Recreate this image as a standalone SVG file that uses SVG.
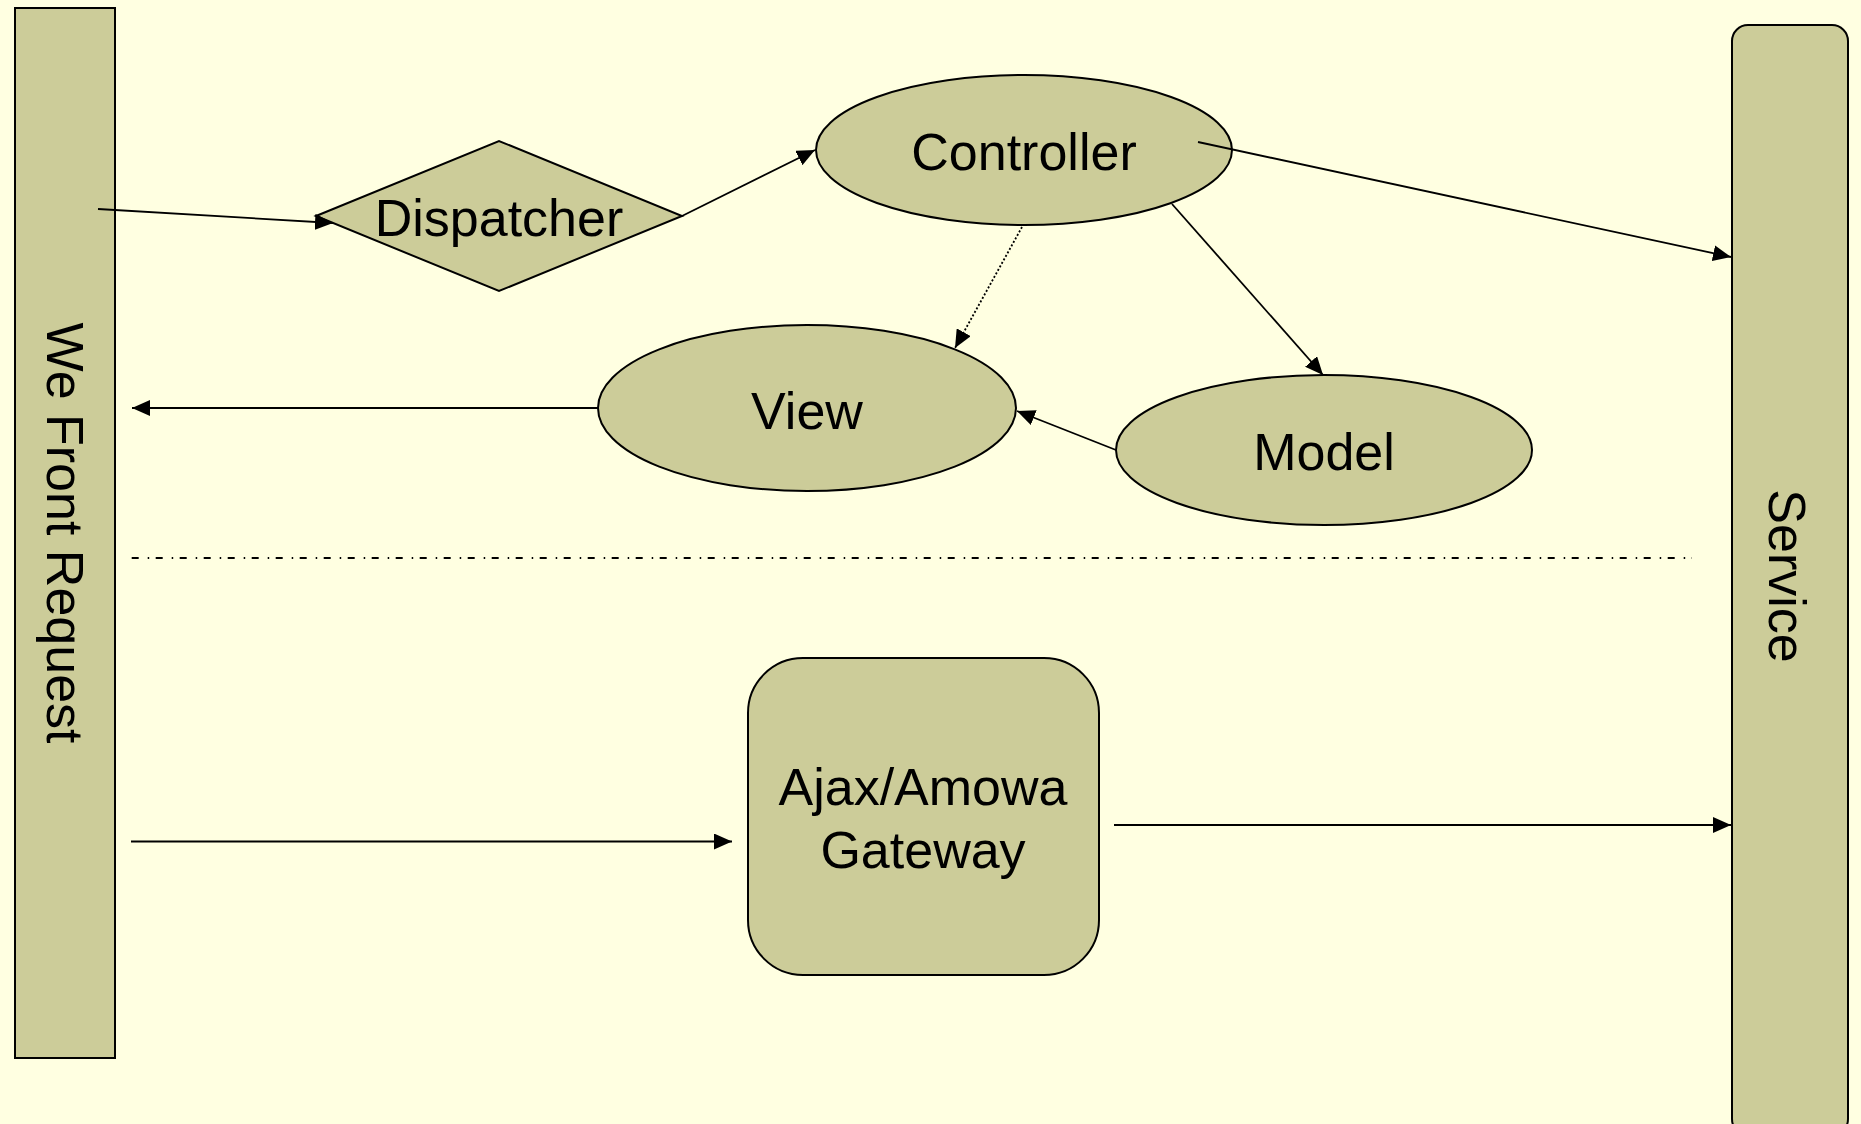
<svg xmlns="http://www.w3.org/2000/svg" width="1861" height="1124" viewBox="0 0 1861 1124">
<style>
.shape{fill:#CCCC99;stroke:#000;stroke-width:2}
.lbl{font-family:"Liberation Sans",Arial,sans-serif;font-size:52px;fill:#000;text-anchor:middle}
.con{fill:none;stroke:#000;stroke-width:1.8}
.dot{stroke-dasharray:2,2}
.sep{fill:none;stroke:#000;stroke-width:2;stroke-dasharray:7,9,1.5,6.5}
</style>
<defs>
<marker id="arr" markerUnits="userSpaceOnUse" markerWidth="18" markerHeight="16" refX="18" refY="8" orient="auto" viewBox="0 0 18 16">
<path d="M0,0 L18,8 L0,16 z" fill="#000"/>
</marker>
</defs>
<rect width="1861" height="1124" fill="#FFFFE1"/>
<g id="front-request">
<rect class="shape" x="15" y="8" width="100" height="1050"/>
<text class="lbl" transform="translate(47,533) rotate(90)">We Front Request</text>
</g>
<g id="service">
<rect class="shape" x="1732" y="25" width="116" height="1110" rx="16"/>
<text class="lbl" transform="translate(1769,576) rotate(90)">Service</text>
</g>
<g id="dispatcher">
<polygon class="shape" points="316,216 499,141 682,216 499,291"/>
<text class="lbl" x="499" y="236">Dispatcher</text>
</g>
<g id="controller">
<ellipse class="shape" cx="1024" cy="150" rx="208" ry="75"/>
<text class="lbl" x="1024" y="170">Controller</text>
</g>
<g id="view">
<ellipse class="shape" cx="807" cy="408" rx="209" ry="83"/>
<text class="lbl" x="807" y="429">View</text>
</g>
<g id="model">
<ellipse class="shape" cx="1324" cy="450" rx="208" ry="75"/>
<text class="lbl" x="1324" y="470">Model</text>
</g>
<g id="gateway">
<rect class="shape" x="748" y="658" width="351" height="317" rx="55"/>
<text class="lbl" x="923" y="805">Ajax/Amowa</text>
<text class="lbl" x="923" y="868">Gateway</text>
</g>
<g id="separator">
<line class="sep" x1="131.7" y1="558" x2="1692" y2="558"/>
</g>
<g id="connectors">
<line class="con" x1="98" y1="209" x2="333" y2="223" marker-end="url(#arr)"/>
<line class="con" x1="682" y1="216" x2="815" y2="150" marker-end="url(#arr)"/>
<line class="con" x1="1198" y1="142" x2="1731" y2="257" marker-end="url(#arr)"/>
<line class="con" x1="1172" y1="204" x2="1323" y2="375" marker-end="url(#arr)"/>
<line class="con dot" x1="1022" y1="227" x2="955" y2="348" marker-end="url(#arr)"/>
<line class="con" x1="1116" y1="450" x2="1017" y2="411" marker-end="url(#arr)"/>
<line class="con" x1="598" y1="408" x2="132" y2="408" marker-end="url(#arr)"/>
<line class="con" x1="131" y1="841.5" x2="732" y2="841.5" marker-end="url(#arr)"/>
<line class="con" x1="1114" y1="825" x2="1731" y2="825" marker-end="url(#arr)"/>
</g>
</svg>
